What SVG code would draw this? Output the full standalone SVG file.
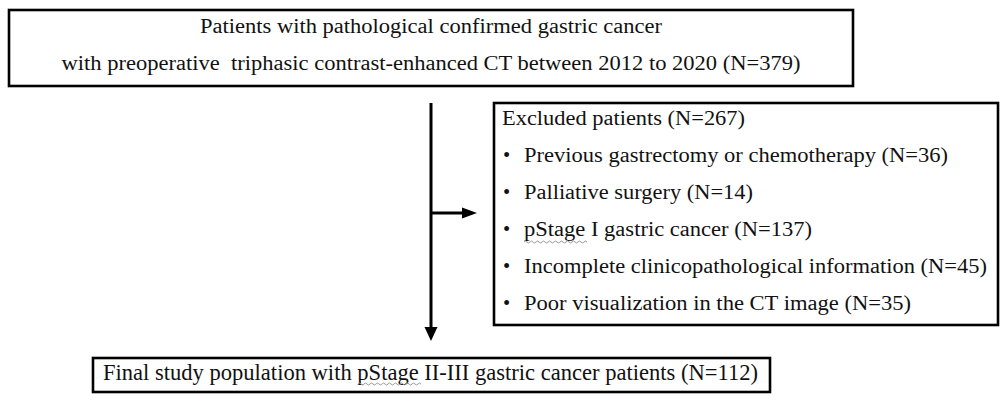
<svg xmlns="http://www.w3.org/2000/svg" width="1008" height="401" viewBox="0 0 1008 401">
<style>
.box{fill:#fff;stroke:#000;stroke-width:2.6}
.t{font-family:"Liberation Serif","Times New Roman",serif;font-size:20.5px;fill:#111}
.b{font-family:"Liberation Serif","Times New Roman",serif;font-size:20.5px;fill:#111}
.conn{stroke:#000;stroke-width:3;fill:none}
.wavy{stroke:#9a9a9a;stroke-width:1;fill:none}
</style>
<defs>
<marker id="ah" viewBox="0 0 10 10" refX="10" refY="5" markerWidth="4.5" markerHeight="4" orient="auto" markerUnits="strokeWidth">
<path d="M0,0 L10,5 L0,10 z" fill="#000"/>
</marker>
</defs>
<rect width="1008" height="401" fill="#fff"/>
<g id="connectors">
<path class="conn" d="M431,103 V327"/>
<path d="M424.5,327 L437.5,327 L431,341 z" fill="#000"/>
<path class="conn" d="M431,213 H463"/>
<path d="M462,207.5 L477,213 L462,218.5 z" fill="#000"/>
</g>
<g id="node-patients">
<rect class="box" x="9" y="10" width="844" height="76"/>
<text class="t" x="431" y="33" text-anchor="middle" textLength="462" lengthAdjust="spacingAndGlyphs">Patients with pathological confirmed gastric cancer</text>
<text class="t" x="431" y="70" text-anchor="middle" textLength="739" lengthAdjust="spacingAndGlyphs" xml:space="preserve">with preoperative  triphasic contrast-enhanced CT between 2012 to 2020 (N=379)</text>
</g>
<g id="node-excluded">
<rect class="box" x="494" y="103" width="504" height="222"/>
<text class="t" x="502" y="125" textLength="243" lengthAdjust="spacingAndGlyphs">Excluded patients (N=267)</text>
<g class="b">
<text x="503" y="162">•</text>
<text x="503" y="199">•</text>
<text x="503" y="236">•</text>
<text x="503" y="273">•</text>
<text x="503" y="310">•</text>
</g>
<text class="t" x="524" y="162" textLength="424" lengthAdjust="spacingAndGlyphs">Previous gastrectomy or chemotherapy (N=36)</text>
<text class="t" x="524" y="199" textLength="229" lengthAdjust="spacingAndGlyphs">Palliative surgery (N=14)</text>
<text class="t" x="524" y="236" textLength="288" lengthAdjust="spacingAndGlyphs">pStage I gastric cancer (N=137)</text>
<text class="t" x="524" y="273" textLength="463" lengthAdjust="spacingAndGlyphs">Incomplete clinicopathological information (N=45)</text>
<text class="t" x="524" y="310" textLength="387" lengthAdjust="spacingAndGlyphs">Poor visualization in the CT image (N=35)</text>
<path class="wavy" d="M524,242 q1.5,-2 3,0 t3,0 t3,0 t3,0 t3,0 t3,0 t3,0 t3,0 t3,0 t3,0 t3,0 t3,0 t3,0 t3,0 t3,0 t3,0 t3,0 t3,0 t3,0 t3,0 t3,0"/>
</g>
<g id="node-final">
<rect class="box" x="93" y="358" width="677" height="34"/>
<text x="103" y="380" font-family="Liberation Serif, Times New Roman, serif" font-size="24" fill="#111" textLength="655" lengthAdjust="spacingAndGlyphs">Final study population with pStage II-III gastric cancer patients (N=112)</text>
<path class="wavy" d="M358,384 q1.5,-2 3,0 t3,0 t3,0 t3,0 t3,0 t3,0 t3,0 t3,0 t3,0 t3,0 t3,0 t3,0 t3,0 t3,0 t3,0 t3,0 t3,0 t3,0 t3,0 t3,0 t3,0"/>
</g>
</svg>
